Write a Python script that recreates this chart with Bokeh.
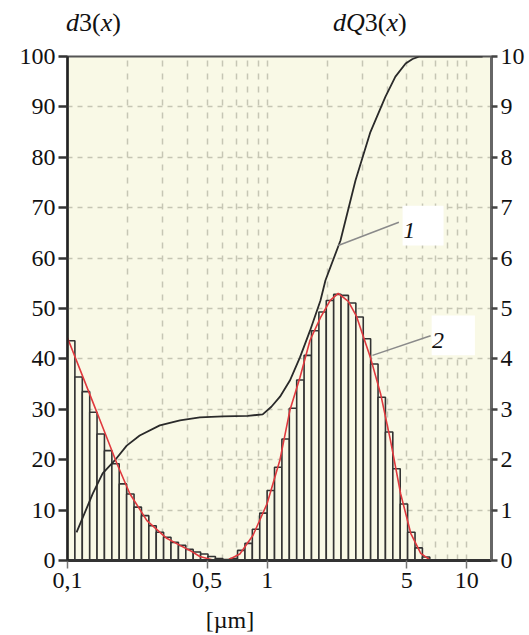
from bokeh.plotting import figure
from bokeh.layouts import column
from bokeh.models import (Range1d, LinearAxis, FixedTicker, Label, BoxAnnotation,
                          CustomJSTickFormatter, Div)
from bokeh.embed import file_html
from bokeh.resources import INLINE

# ---- data -------------------------------------------------------------
bin_edges = [0.1, 0.1089, 0.1186, 0.1292, 0.1406, 0.1531, 0.1668, 0.1816, 0.1978, 0.2154,
             0.2346, 0.2555, 0.2783, 0.3030, 0.3299, 0.3594, 0.3913, 0.4262, 0.4642, 0.5054,
             0.5505, 0.5995, 0.6527, 0.7108, 0.7743, 0.8431, 0.9183, 1.0, 1.0889, 1.1857,
             1.2915, 1.4063, 1.5314, 1.6681, 1.8164, 1.9779, 2.1544, 2.3457, 2.5545, 2.7826,
             3.0299, 3.2994, 3.5938, 3.9133, 4.2616, 4.6416, 5.0541, 5.5048, 5.9948, 6.5273]
bar_heights = [43.6, 36.4, 33.5, 29.4, 25.1, 21.8, 19.2, 15.2, 13.2, 10.6,
               8.9, 6.9, 5.6, 4.6, 3.6, 3.0, 2.2, 1.7, 1.3, 0.8,
               0.4, 0.2, 0.4, 2.0, 3.4, 6.2, 9.4, 13.9, 18.5, 24.1,
               30.2, 35.8, 40.7, 45.6, 49.3, 51.6, 52.8, 52.6, 51.1, 48.3,
               44.0, 39.0, 32.4, 25.5, 18.2, 11.2, 5.6, 2.5, 0.7]

cum_x = [0.111, 0.134, 0.150, 0.172, 0.198, 0.230, 0.290, 0.366, 0.46, 0.6, 0.8, 0.95,
         1.05, 1.16, 1.30, 1.46, 1.64, 1.85, 1.96, 2.33, 2.77, 3.29, 3.91, 4.39, 4.94,
         5.35, 5.8, 12.0]
cum_y = [5.6, 13.3, 17.3, 19.8, 22.8, 24.8, 26.8, 27.8, 28.4, 28.6, 28.7, 29.0,
         30.5, 32.5, 35.7, 40.3, 45.6, 51.6, 55.6, 63.5, 75.4, 85.0, 92.0, 96.0, 98.6,
         99.5, 100.0, 100.0]

dens_x = [0.1, 0.141, 0.177, 0.205, 0.25, 0.314, 0.366, 0.41, 0.46, 0.535, 0.63, 0.73,
          0.85, 1.0, 1.16, 1.30, 1.46, 1.64, 1.85, 2.07, 2.27, 2.55, 2.80, 3.0, 3.29,
          3.70, 4.15, 4.66, 5.24, 5.88, 6.6, 7.4]
dens_y = [44.2, 29.2, 19.2, 13.3, 7.9, 4.4, 3.0, 2.0, 0.8, 0.1, 0.0, 1.3,
          5.0, 11.3, 20.0, 29.8, 36.3, 43.7, 48.2, 51.6, 53.0, 51.4, 48.5, 45.0, 40.3,
          33.1, 23.8, 13.3, 5.4, 1.4, 0.0, 0.0]

x_ticks = [0.1, 0.5, 1, 5, 10]
x_minor = [0.2, 0.3, 0.4, 0.6, 0.7, 0.8, 0.9, 2, 3, 4, 6, 7, 8, 9]
left_ticks = [0, 10, 20, 30, 40, 50, 60, 70, 80, 90, 100]
right_ticks = [0, 1, 2, 3, 4, 5, 6, 7, 8, 9, 10]

title_left_html = "<i>d</i>3(<i>x</i>)"
title_right_html = "<i>dQ</i>3(<i>x</i>)"
unit_label = "[µm]"

# ---- styles -----------------------------------------------------------
FONT = "Liberation Serif"
BG = "#f9f9e6"
DARK = "#333333"
GRID = "#c6c6b4"
W = 527

span = ("position:absolute;white-space:nowrap;line-height:1;color:#111;"
        "font-family:'Liberation Serif','Times New Roman',serif;")

# ---- header (axis titles) ---------------------------------------------
head_html = (
    f'<div style="position:relative;width:{W}px;height:40px;">'
    f'<span style="{span}left:66px;top:10px;font-size:26px;">{title_left_html}</span>'
    f'<span style="{span}left:333px;top:10px;font-size:26px;">{title_right_html}</span>'
    '</div>'
)
head = Div(text=head_html, width=W, height=40, margin=0)

# ---- main plot --------------------------------------------------------
p = figure(width=W, height=562, x_axis_type="log", title=None,
           x_range=Range1d(0.1, 13.3), y_range=Range1d(0, 100),
           output_backend="svg", toolbar_location=None,
           min_border_left=67, min_border_right=W - 491, min_border_top=16, min_border_bottom=42)
p.background_fill_color = BG
p.border_fill_color = "white"
p.outline_line_color = "#555555"
p.outline_line_width = 2

p.extra_y_ranges = {"r": Range1d(0, 10)}

xt = FixedTicker(ticks=x_ticks, minor_ticks=x_minor)
p.xaxis.ticker = xt
p.xaxis.formatter = CustomJSTickFormatter(code="return tick.toString().replace('.', ',');")
p.xaxis.axis_line_width = 3
p.xaxis.axis_line_color = DARK
p.xaxis.major_tick_line_color = "#777777"
p.xaxis.major_tick_line_width = 1.5
p.xaxis.major_tick_out = 8
p.xaxis.major_tick_in = 0
p.xaxis.minor_tick_line_color = None
p.xaxis.major_label_text_font = FONT
p.xaxis.major_label_text_font_size = "24px"
p.xaxis.major_label_text_color = "#111111"
p.xaxis.major_label_standoff = 4

p.yaxis.ticker = FixedTicker(ticks=left_ticks)
p.yaxis.axis_line_width = 2.5
p.yaxis.axis_line_color = "#222222"
p.yaxis.major_tick_line_width = 2.5
p.yaxis.major_tick_line_color = DARK
p.yaxis.major_tick_out = 9
p.yaxis.major_tick_in = 0
p.yaxis.minor_tick_line_color = None
p.yaxis.major_label_text_font = FONT
p.yaxis.major_label_text_font_size = "24px"
p.yaxis.major_label_text_color = "#111111"
p.yaxis.major_label_standoff = 3

ra = LinearAxis(y_range_name="r", ticker=FixedTicker(ticks=right_ticks))
ra.axis_line_width = 3
ra.axis_line_color = "#666666"
ra.major_tick_line_width = 2.5
ra.major_tick_line_color = "#444444"
ra.major_tick_out = 6
ra.major_tick_in = 0
ra.minor_tick_line_color = None
ra.major_label_text_font = FONT
ra.major_label_text_font_size = "24px"
ra.major_label_text_color = "#111111"
ra.major_label_standoff = 3
p.add_layout(ra, "right")

p.xgrid.ticker = xt
p.xgrid.grid_line_color = GRID
p.xgrid.grid_line_dash = "6 7"
p.xgrid.grid_line_width = 1.5
p.xgrid.minor_grid_line_color = GRID
p.xgrid.minor_grid_line_dash = "6 7"
p.xgrid.minor_grid_line_width = 1.5
p.ygrid.ticker = FixedTicker(ticks=left_ticks)
p.ygrid.grid_line_color = GRID
p.ygrid.grid_line_dash = "5 5"
p.ygrid.grid_line_width = 1.5

p.quad(left=bin_edges[:-1], right=bin_edges[1:], bottom=0, top=bar_heights,
       fill_color=BG, line_color=DARK, line_width=1.6)

p.line(cum_x, cum_y, line_color="#2a2a2a", line_width=1.8)
p.line(dens_x, dens_y, line_color="#e0393e", line_width=1.6)

p.line([2.27, 4.57], [62.5, 67.1], line_color="#8a8a8a", line_width=1.5)
p.line([3.37, 6.59], [40.7, 44.6], line_color="#8a8a8a", line_width=1.5)
p.add_layout(BoxAnnotation(left=4.77, right=7.65, bottom=62.5, top=70.4,
                           fill_color="white", fill_alpha=1, line_color=None))
p.add_layout(BoxAnnotation(left=6.67, right=10.98, bottom=40.7, top=48.6,
                           fill_color="white", fill_alpha=1, line_color=None))
p.add_layout(Label(x=4.8, y=65.5, text="1", text_font=FONT, text_font_style="italic",
                   text_font_size="24px", text_color="#111111", text_baseline="alphabetic"))
p.add_layout(Label(x=6.7, y=43.6, text="2", text_font=FONT, text_font_style="italic",
                   text_font_size="24px", text_color="#111111", text_baseline="alphabetic"))

# ---- footer (unit label) ----------------------------------------------
foot_html = (
    f'<div style="position:relative;width:{W}px;height:32px;">'
    f'<span style="{span}left:180px;width:100px;text-align:center;top:6px;font-size:24px;">'
    f'{unit_label}</span>'
    '</div>'
)
foot = Div(text=foot_html, width=W, height=32, margin=0)

layout = column(head, p, foot, spacing=0)
open("out.html", "w").write(file_html(layout, INLINE))
